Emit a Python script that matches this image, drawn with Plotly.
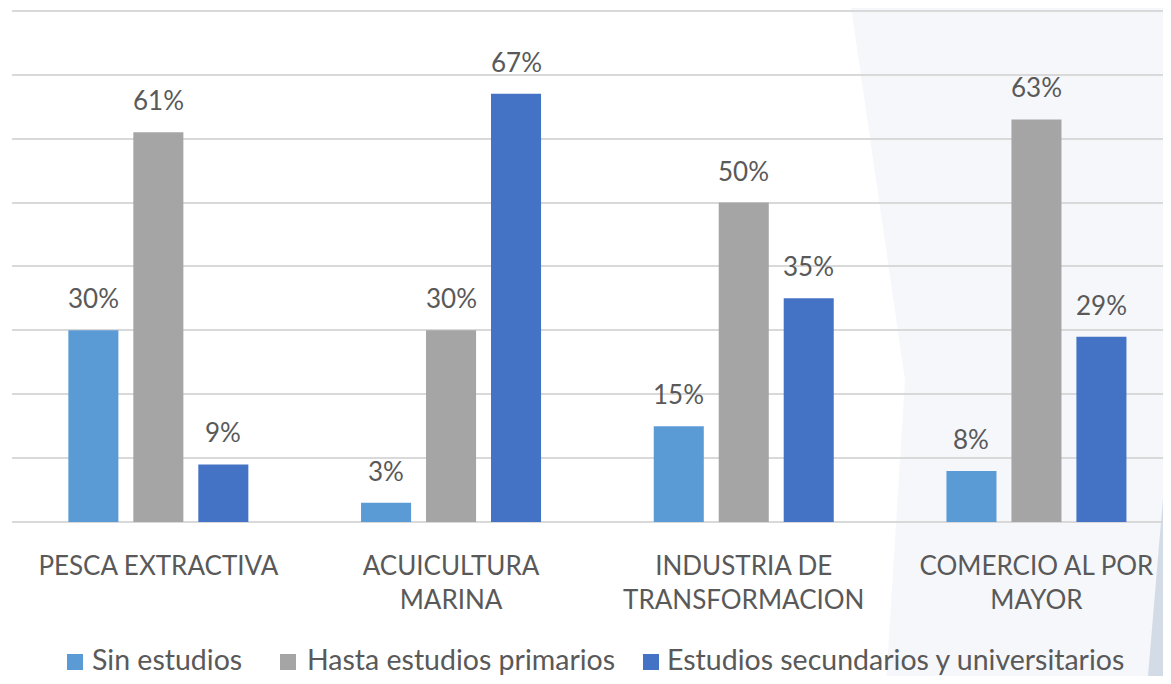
import plotly.graph_objects as go

categories = ["PESCA EXTRACTIVA", "ACUICULTURA<br>MARINA", "INDUSTRIA DE<br>TRANSFORMACION", "COMERCIO AL POR<br>MAYOR"]
series_names = ["Sin estudios", "Hasta estudios primarios", "Estudios secundarios y universitarios"]
sin_estudios = [30, 3, 15, 8]
primarios = [61, 30, 50, 63]
secundarios = [9, 67, 35, 29]
colors = ["#5B9BD5", "#A5A5A5", "#4472C4"]

# The page keeps the browser's default 8px body margin, so the figure is
# sized to make the whole document exactly 1171 x 684.
OFF = 8
PAGE_W, PAGE_H = 1171, 684
W, H = PAGE_W - 2 * OFF, PAGE_H - 2 * OFF
PLOT_X0, PLOT_X1 = 12, PAGE_W - OFF      # page pixels
PLOT_Y0, PLOT_Y1 = 8, 522                # page pixels (top, bottom)
L, R = PLOT_X0 - OFF, W - (PLOT_X1 - OFF)
T, B = PLOT_Y0 - OFF, H - (PLOT_Y1 - OFF)
pw, ph = W - L - R, H - T - B
BARGAP, GROUPGAP = 0.334, 0.23
GROUP_PX = 292.7
TXT = "#595959"
FONT = "Lato"

def px2paper(x, y):
    return (x - PLOT_X0) / pw, (PLOT_Y1 - y) / ph

fig = go.Figure()
all_series = [sin_estudios, primarios, secundarios]
n = len(all_series)
slot = (1 - BARGAP) / n
for k, (name, vals, c) in enumerate(zip(series_names, all_series, colors)):
    fig.add_trace(go.Bar(
        x=list(range(len(categories))), y=vals, name=name,
        marker=dict(color=c, line=dict(width=0)), showlegend=False,
    ))
    for i, v in enumerate(vals):
        fig.add_annotation(x=i + (k - (n - 1) / 2) * slot, y=v, text=f"{v}%",
                           showarrow=False, yanchor="middle", yshift=32,
                           font=dict(size=26, color=TXT, family=FONT))

def poly(points, color):
    pts = [px2paper(x, y) for x, y in points]
    path = "M " + " L ".join(f"{x:.4f},{y:.4f}" for x, y in pts) + " Z"
    fig.add_shape(type="path", path=path, xref="paper", yref="paper",
                  fillcolor=color, line=dict(width=0), layer="below")

poly([(850, 0), (1180, 0), (1180, 700), (885, 700), (905, 380)], "#F5F7FB")
poly([(1168, 440), (1180, 440), (1180, 700), (1146, 700)], "#D3DBE7")

# legend drawn as swatches + text
legend_marker_x = [67, 280, 643]
legend_text_x = [91, 306, 666]
LEG_TEXT_Y = 659
LEG_MARK_Y = 662
SW = 16
for name, c, mx, tx in zip(series_names, colors, legend_marker_x, legend_text_x):
    x0, y0 = px2paper(mx, LEG_MARK_Y + SW / 2)
    x1, y1 = px2paper(mx + SW, LEG_MARK_Y - SW / 2)
    fig.add_shape(type="rect", xref="paper", yref="paper", x0=x0, y0=y0, x1=x1, y1=y1,
                  fillcolor=c, line=dict(width=0))
    ax, ay = px2paper(tx, LEG_TEXT_Y)
    fig.add_annotation(xref="paper", yref="paper", x=ax, y=ay, text=name, showarrow=False,
                       xanchor="left", yanchor="middle", borderpad=0,
                       font=dict(size=28.5, color=TXT, family=FONT))

fig.update_layout(
    width=W, height=H,
    margin=dict(l=L, r=R, t=T, b=B, pad=0),
    paper_bgcolor="white", plot_bgcolor="rgba(0,0,0,0)",
    barmode="group", bargap=BARGAP, bargroupgap=GROUPGAP,
    font=dict(family=FONT, color=TXT),
    showlegend=False,
)
fig.update_xaxes(range=[-0.5, -0.5 + pw / GROUP_PX], tickmode="array",
                 tickvals=list(range(len(categories))),
                 ticktext=categories, showgrid=False, zeroline=False, showline=False,
                 tickfont=dict(size=26, color=TXT), ticklabelstandoff=26, ticks="")
fig.update_yaxes(range=[0, (PLOT_Y1 - PLOT_Y0) / 6.39], dtick=10, showticklabels=False, showgrid=True,
                 gridcolor="#D9D9D9", gridwidth=2, zeroline=True, zerolinecolor="#D9D9D9",
                 zerolinewidth=2, showline=False)

fig.write_html("out.html")
